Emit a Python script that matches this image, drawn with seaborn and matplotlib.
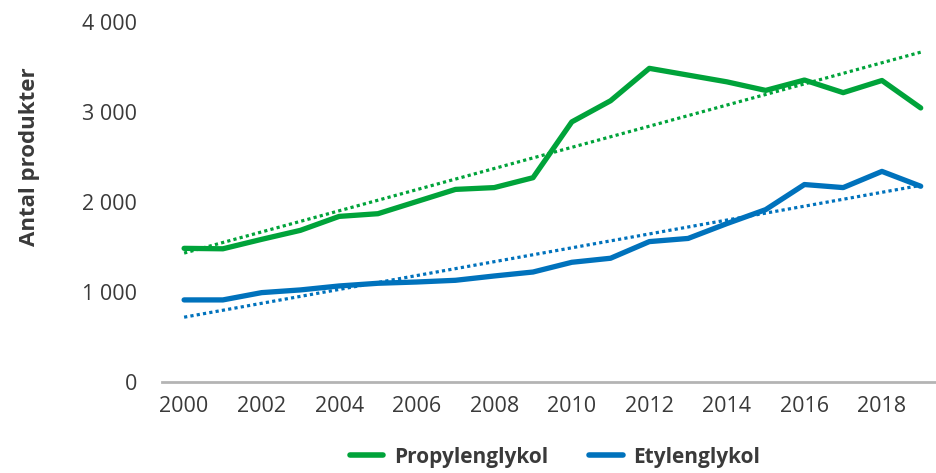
import numpy as np
import pandas as pd
import seaborn as sns
import matplotlib.pyplot as plt
from matplotlib.lines import Line2D
from matplotlib.ticker import FuncFormatter

# data
years = list(range(2000, 2020))
propylenglykol = [1485, 1480, 1585, 1685, 1840, 1870, 2005, 2140, 2160, 2270,
                  2890, 3125, 3485, 3410, 3335, 3240, 3355, 3215, 3350, 3045]
etylenglykol = [912, 912, 993, 1023, 1067, 1097, 1111, 1130, 1178, 1222,
                1330, 1375, 1560, 1595, 1760, 1915, 2194, 2160, 2340, 2175]

GREEN = "#00A33A"
BLUE = "#0072BC"
TEXT = "#3a3a3a"

df = pd.DataFrame({
    "År": years * 2,
    "Antal": propylenglykol + etylenglykol,
    "Ämne": ["Propylenglykol"] * len(years) + ["Etylenglykol"] * len(years),
})

sns.set_theme(style="white")
plt.rcParams["font.family"] = ["Open Sans", "DejaVu Sans"]

fig = plt.figure(figsize=(9.37, 4.73), dpi=100)
ax = fig.add_axes([0.1729, 0.1924, 0.8271, 0.7611])

sns.lineplot(
    data=df, x="År", y="Antal", hue="Ämne",
    palette={"Propylenglykol": GREEN, "Etylenglykol": BLUE},
    linewidth=3.8, ax=ax, legend=False,
)

# linear trend lines (least squares, like Excel)
x = np.array(years)
for vals, col in [(propylenglykol, GREEN), (etylenglykol, BLUE)]:
    k, m = np.polyfit(x, vals, 1)
    ax.plot(x, k * x + m, color=col, linewidth=2.3, linestyle=(0, (1, 1)))

ax.set_xlim(1999.43, 2019.42)
ax.set_ylim(0, 4000)
ax.set_xticks(range(2000, 2020, 2))
ax.set_yticks(range(0, 4001, 1000))
ax.yaxis.set_major_formatter(FuncFormatter(lambda v, p: f"{int(v):,}".replace(",", " ")))

for s in ["top", "right", "left"]:
    ax.spines[s].set_visible(False)
ax.spines["bottom"].set_color("#b4b4b4")
ax.spines["bottom"].set_linewidth(2)
ax.tick_params(axis="both", length=0, labelsize=15.5, colors=TEXT)
ax.tick_params(axis="y", pad=18)
ax.tick_params(axis="x", pad=10)

ax.set_xlabel("")
ax.set_ylabel("")
fig.text(30 / 937, 1 - 157 / 473, "Antal produkter", rotation=90, ha="center", va="center",
         fontsize=16, fontweight="bold", color=TEXT)

handles = [Line2D([], [], color=GREEN, lw=4), Line2D([], [], color=BLUE, lw=4)]
fig.legend(handles, ["Propylenglykol", "Etylenglykol"], loc="center",
           bbox_to_anchor=(555 / 937, 1 - 457 / 473), ncol=2, frameon=False,
           prop={"size": 15, "weight": "bold"}, labelcolor=TEXT,
           handlelength=1.6, handletextpad=0.5, columnspacing=2.0,
           borderpad=0.1)

fig.savefig("out.png", dpi=100)
